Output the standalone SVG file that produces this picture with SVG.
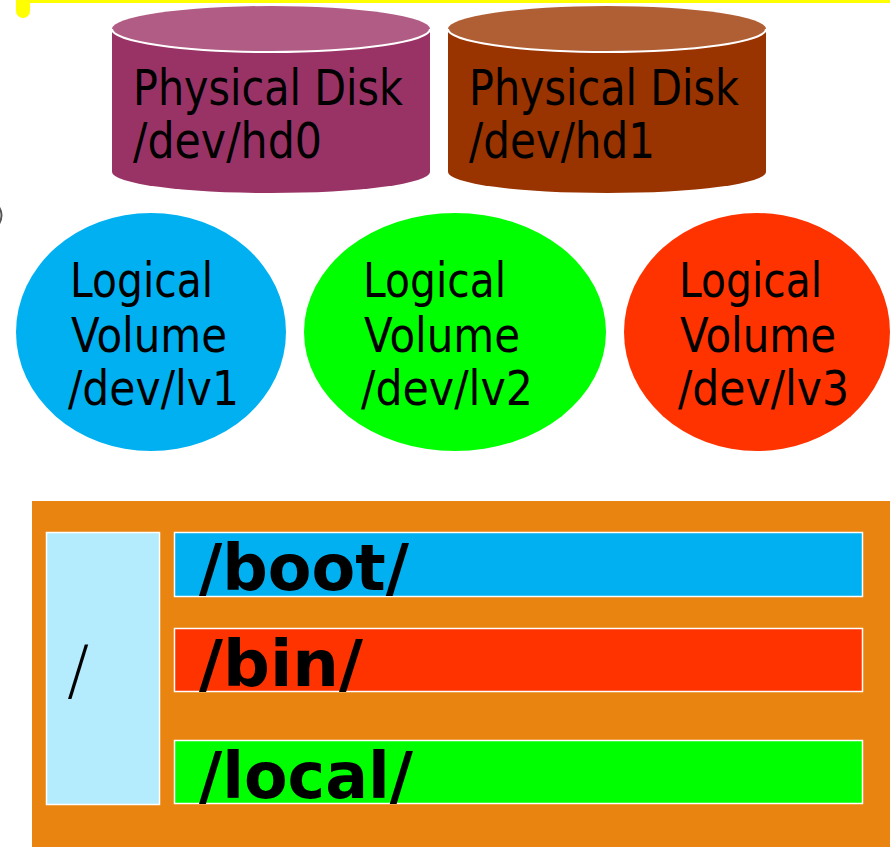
<svg xmlns="http://www.w3.org/2000/svg" width="890" height="847" viewBox="0 0 890 847">
<style>
.t{font-family:"DejaVu Sans","Liberation Sans",sans-serif;fill:#000}
.c{font-size:50px}
.v{font-size:48px}
.b{font-size:64px;font-weight:bold}
.edge{fill:none;stroke:#fff;stroke-width:2}
.bar{stroke:#fff;stroke-width:1.5}
</style>
<rect width="890" height="847" fill="#fff"/>
<g id="decor">
<rect x="16" y="-12" width="14" height="30" rx="7" fill="#ffff00"/>
<rect x="16" y="0" width="874" height="3" fill="#ffff00"/>
<path d="M-1,207 Q4,215 -1,224" fill="none" stroke="#555" stroke-width="2"/>
</g>
<g id="disk0">
<path d="M112,29 L112,172 A159,21 0 0 0 430,172 L430,29 Z" fill="#993366"/>
<ellipse cx="271" cy="29" rx="159" ry="23" fill="#b05c85"/>
<path class="edge" d="M112,29 A159,23 0 0 0 430,29"/>
<text class="t c" x="133" y="105" textLength="270" lengthAdjust="spacingAndGlyphs">Physical Disk</text>
<text class="t c" x="133" y="158" textLength="189" lengthAdjust="spacingAndGlyphs">/dev/hd0</text>
</g>
<g id="disk1">
<path d="M448,29 L448,172 A159,21 0 0 0 766,172 L766,29 Z" fill="#993300"/>
<ellipse cx="607" cy="29" rx="159" ry="23" fill="#b05e33"/>
<path class="edge" d="M448,29 A159,23 0 0 0 766,29"/>
<text class="t c" x="469" y="105" textLength="270" lengthAdjust="spacingAndGlyphs">Physical Disk</text>
<text class="t c" x="469" y="158" textLength="186" lengthAdjust="spacingAndGlyphs">/dev/hd1</text>
</g>
<g id="lv1">
<ellipse cx="151" cy="332" rx="135" ry="119" fill="#00b0f0"/>
<text class="t v" x="70" y="297" textLength="143" lengthAdjust="spacingAndGlyphs">Logical</text>
<text class="t v" x="71" y="352" textLength="156" lengthAdjust="spacingAndGlyphs">Volume</text>
<text class="t v" x="68" y="405" textLength="171" lengthAdjust="spacingAndGlyphs">/dev/lv1</text>
</g>
<g id="lv2">
<ellipse cx="455" cy="332" rx="151" ry="119" fill="#00ff00"/>
<text class="t v" x="363" y="297" textLength="143" lengthAdjust="spacingAndGlyphs">Logical</text>
<text class="t v" x="364" y="352" textLength="156" lengthAdjust="spacingAndGlyphs">Volume</text>
<text class="t v" x="361" y="405" textLength="172" lengthAdjust="spacingAndGlyphs">/dev/lv2</text>
</g>
<g id="lv3">
<ellipse cx="757" cy="332" rx="133" ry="119" fill="#ff3300"/>
<text class="t v" x="679" y="297" textLength="143" lengthAdjust="spacingAndGlyphs">Logical</text>
<text class="t v" x="680" y="352" textLength="156" lengthAdjust="spacingAndGlyphs">Volume</text>
<text class="t v" x="678" y="405" textLength="171" lengthAdjust="spacingAndGlyphs">/dev/lv3</text>
</g>
<g id="fs">
<rect x="32" y="501" width="858" height="346" fill="#e8840f"/>
</g>
<g id="root">
<rect class="bar" x="46.5" y="532.5" width="113" height="272" fill="#b5ecfd"/>
<text class="t" x="67" y="693" font-size="66" font-weight="300">/</text>
</g>
<g id="boot">
<rect class="bar" x="174.5" y="532.5" width="688" height="64" fill="#00b0f0"/>
<text class="t b" x="199" y="590" textLength="210" lengthAdjust="spacingAndGlyphs">/boot/</text>
</g>
<g id="bin">
<rect class="bar" x="174.5" y="628.5" width="688" height="63" fill="#ff3300"/>
<text class="t b" x="199" y="686" textLength="164" lengthAdjust="spacingAndGlyphs">/bin/</text>
</g>
<g id="local">
<rect class="bar" x="174.5" y="740.5" width="688" height="63" fill="#00ff00"/>
<text class="t b" x="199" y="798" textLength="214" lengthAdjust="spacingAndGlyphs">/local/</text>
</g>
<g id="connectors"></g>
</svg>
